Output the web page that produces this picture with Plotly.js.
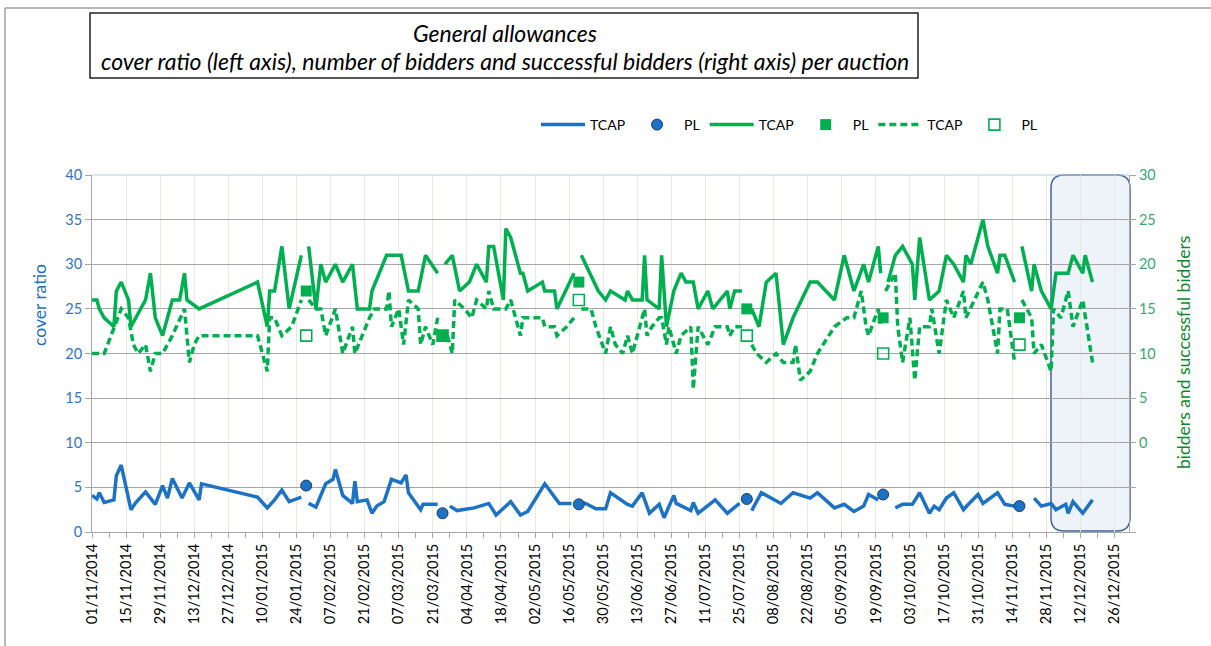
<!DOCTYPE html>
<html><head><meta charset="utf-8">
<script src="https://cdn.plot.ly/plotly-3.0.1.min.js"></script>
<style>html,body{margin:0;padding:0;background:#fff;} #chart{width:1211px;height:646px;}</style>
</head><body><div id="chart"></div>
<script>
// ---------- DATA ----------
// TCAP cover ratio (left axis); null = PL auction day (line gap)
const blueDates = [
 "2014-11-01","2014-11-03","2014-11-04","2014-11-06","2014-11-10","2014-11-11","2014-11-13","2014-11-17","2014-11-19","2014-11-23","2014-11-27","2014-11-30",
 "2014-12-02","2014-12-04","2014-12-08","2014-12-11","2014-12-15","2014-12-16",
 "2015-01-08","2015-01-12","2015-01-15","2015-01-18","2015-01-21","2015-01-26","2015-01-28","2015-01-29",
 "2015-02-01","2015-02-05","2015-02-08","2015-02-09","2015-02-12","2015-02-16","2015-02-17","2015-02-18","2015-02-22","2015-02-24","2015-02-26",
 "2015-03-01","2015-03-04","2015-03-08","2015-03-10","2015-03-11","2015-03-16","2015-03-17","2015-03-23","2015-03-25","2015-03-28","2015-03-31",
 "2015-04-07","2015-04-13","2015-04-16","2015-04-22","2015-04-26","2015-04-29",
 "2015-05-06","2015-05-12","2015-05-17","2015-05-20","2015-05-22","2015-05-27","2015-05-31",
 "2015-06-02","2015-06-09","2015-06-11","2015-06-15","2015-06-18","2015-06-22","2015-06-24","2015-06-28","2015-06-29",
 "2015-07-05","2015-07-06","2015-07-08","2015-07-15","2015-07-20","2015-07-25","2015-07-28","2015-07-30",
 "2015-08-03","2015-08-11","2015-08-16","2015-08-23","2015-08-26",
 "2015-09-02","2015-09-06","2015-09-10","2015-09-14","2015-09-16","2015-09-20","2015-09-22","2015-09-27","2015-09-30",
 "2015-10-04","2015-10-07","2015-10-11","2015-10-13","2015-10-15","2015-10-18","2015-10-21","2015-10-25","2015-10-27","2015-10-31",
 "2015-11-02","2015-11-08","2015-11-11","2015-11-15","2015-11-17","2015-11-23","2015-11-26","2015-11-30",
 "2015-12-02","2015-12-06","2015-12-07","2015-12-09","2015-12-13","2015-12-17"];
const blueCover = [
 4.1,3.7,4.4,3.3,3.6,6.3,7.5,2.5,3.3,4.5,3.1,5.2,
 3.8,6.0,3.8,5.5,3.6,5.4,
 3.9,2.7,3.6,4.7,3.4,3.9,null,3.2,
 2.8,5.4,5.9,7.0,4.1,3.2,5.7,3.4,3.6,2.1,2.9,
 3.4,5.9,5.5,6.4,4.4,2.5,3.1,3.1,null,2.9,2.4,
 2.7,3.2,1.9,3.4,1.9,2.3,
 5.4,3.2,3.2,null,3.3,2.6,2.6,
 4.4,3.1,2.9,4.4,2.1,3.1,1.6,4.1,3.2,
 2.4,3.3,2.1,3.6,2.1,3.2,null,2.4,
 4.4,3.2,4.4,3.8,4.4,
 2.7,3.1,2.3,2.9,4.2,3.6,null,2.7,3.1,
 3.1,4.4,2.1,2.9,2.5,3.8,4.4,2.5,3.1,4.2,
 3.2,4.4,3.1,2.9,null,3.8,2.9,3.2,
 2.5,3.1,2.1,3.4,2.1,3.6];

// TCAP number of bidders (right axis)
const bidDates = [
 "2014-11-01","2014-11-03","2014-11-04","2014-11-06","2014-11-10","2014-11-11","2014-11-13","2014-11-16","2014-11-17","2014-11-23","2014-11-25","2014-11-27","2014-11-30",
 "2014-12-02","2014-12-04","2014-12-07","2014-12-09","2014-12-10","2014-12-15",
 "2015-01-08","2015-01-12","2015-01-13","2015-01-15","2015-01-18","2015-01-21","2015-01-26","2015-01-28","2015-01-29",
 "2015-02-01","2015-02-03","2015-02-05","2015-02-09","2015-02-12","2015-02-14","2015-02-16","2015-02-18","2015-02-20","2015-02-23","2015-02-24",
 "2015-03-02","2015-03-08","2015-03-11","2015-03-15","2015-03-18","2015-03-23","2015-03-25","2015-03-26","2015-03-29",
 "2015-04-01","2015-04-05","2015-04-08","2015-04-12","2015-04-13","2015-04-15","2015-04-19","2015-04-20","2015-04-22","2015-04-26","2015-04-27","2015-04-29",
 "2015-05-05","2015-05-06","2015-05-10","2015-05-11","2015-05-18","2015-05-20","2015-05-21","2015-05-28","2015-05-31",
 "2015-06-02","2015-06-08","2015-06-09","2015-06-11","2015-06-15","2015-06-16","2015-06-17","2015-06-22","2015-06-23","2015-06-25","2015-06-28",
 "2015-07-01","2015-07-03","2015-07-06","2015-07-08","2015-07-12","2015-07-14","2015-07-20","2015-07-21","2015-07-23","2015-07-26","2015-07-28","2015-07-30",
 "2015-08-02","2015-08-05","2015-08-09","2015-08-12","2015-08-16","2015-08-23","2015-08-26",
 "2015-09-02","2015-09-06","2015-09-10","2015-09-14","2015-09-16","2015-09-20","2015-09-21","2015-09-22","2015-09-24","2015-09-27","2015-09-30",
 "2015-10-04","2015-10-05","2015-10-07","2015-10-11","2015-10-15","2015-10-18","2015-10-21","2015-10-25","2015-10-26","2015-10-28",
 "2015-11-02","2015-11-04","2015-11-08","2015-11-09","2015-11-11","2015-11-15","2015-11-17","2015-11-18","2015-11-22","2015-11-23","2015-11-26","2015-11-30",
 "2015-12-02","2015-12-07","2015-12-09","2015-12-13","2015-12-14","2015-12-17"];
const bidders = [
 16,16,15,14,13,17,18,16,13,16,19,14,12,
 14,16,16,19,16,15,
 18,13,17,17,22,15,21,null,22,
 15,20,18,20,18,19,20,15,15,15,17,
 21,21,17,17,21,19,null,20,21,
 17,18,20,18,22,22,16,24,23,19,19,17,
 18,17,17,15,19,null,21,17,16,
 17,16,17,16,16,21,16,15,21,13,17,
 19,18,18,15,17,15,17,15,17,17,null,15,
 13,18,19,11,14,18,18,
 16,21,17,20,18,22,19,null,18,21,22,
 20,16,23,16,17,21,20,18,21,20,
 25,22,19,21,21,18,null,22,17,20,17,15,
 19,19,21,19,21,18];

// TCAP number of successful bidders (right axis)
const succDates = [
 "2014-11-01","2014-11-06","2014-11-13","2014-11-16","2014-11-18","2014-11-20","2014-11-23","2014-11-25","2014-11-27","2014-11-30",
 "2014-12-04","2014-12-09","2014-12-11","2014-12-13","2014-12-15",
 "2015-01-08","2015-01-10","2015-01-12","2015-01-13","2015-01-15","2015-01-18","2015-01-22","2015-01-26","2015-01-28","2015-01-29",
 "2015-02-01","2015-02-03","2015-02-05","2015-02-09","2015-02-12","2015-02-16","2015-02-17","2015-02-20","2015-02-23","2015-02-25",
 "2015-03-02","2015-03-03","2015-03-04","2015-03-07","2015-03-09","2015-03-11","2015-03-15","2015-03-16","2015-03-18","2015-03-21","2015-03-23","2015-03-25","2015-03-27","2015-03-29","2015-03-30",
 "2015-04-03","2015-04-06","2015-04-08","2015-04-12","2015-04-13","2015-04-15","2015-04-20","2015-04-22","2015-04-26","2015-04-27","2015-04-29",
 "2015-05-05","2015-05-06","2015-05-10","2015-05-11","2015-05-15","2015-05-18","2015-05-20","2015-05-21","2015-05-25","2015-05-27","2015-05-31",
 "2015-06-02","2015-06-04","2015-06-07","2015-06-09","2015-06-11","2015-06-14","2015-06-16","2015-06-17","2015-06-19","2015-06-22","2015-06-23","2015-06-25","2015-06-26","2015-06-29",
 "2015-07-01","2015-07-05","2015-07-06","2015-07-08","2015-07-12","2015-07-15","2015-07-20","2015-07-21","2015-07-23","2015-07-26","2015-07-28","2015-07-30",
 "2015-08-01","2015-08-05","2015-08-09","2015-08-12","2015-08-16","2015-08-17","2015-08-19","2015-08-23","2015-08-26",
 "2015-09-02","2015-09-07","2015-09-10","2015-09-13","2015-09-15","2015-09-16","2015-09-20","2015-09-21","2015-09-22","2015-09-23","2015-09-27","2015-09-28","2015-09-30",
 "2015-10-03","2015-10-05","2015-10-07","2015-10-08","2015-10-11","2015-10-12","2015-10-15","2015-10-18","2015-10-21","2015-10-25","2015-10-26",
 "2015-11-02","2015-11-04","2015-11-08","2015-11-09","2015-11-12","2015-11-15","2015-11-17","2015-11-18","2015-11-22","2015-11-23","2015-11-26","2015-11-30",
 "2015-12-01","2015-12-04","2015-12-07","2015-12-09","2015-12-13","2015-12-17"];
const successful = [
 10,10,15,14,11,10,11,8,10,10,
 12,15,9,11,12,
 12,10,8,14,14,12,13,16,null,16,
 15,15,12,15,10,13,10,12,14,15,
 15,17,13,15,11,16,15,11,13,11,14,null,12,10,16,
 15,14,16,15,17,15,15,16,12,14,14,
 14,13,13,12,13,14,null,15,15,13,10,
 13,11,10,12,10,13,15,12,13,14,14,11,13,10,
 12,13,6,13,11,13,13,12,13,13,null,11,
 10,9,10,9,9,11,7,8,10,
 13,14,14,17,13,12,15,13,null,17,19,13,9,
 14,7,13,13,13,15,10,16,14,17,14,
 18,16,10,15,15,9,null,16,14,10,11,8,
 15,14,17,13,16,9];

// PL auctions
const plDates = ["2015-01-28","2015-03-25","2015-05-20","2015-07-28","2015-09-22","2015-11-17"];
const plCover = [5.2, 2.1, 3.1, 3.7, 4.2, 2.9];
const plBidders = [17, 12, 18, 15, 14, 14];
const plSuccessful = [12, 12, 16, 12, 10, 11];

// axis labels / texts
const titleLine1 = "General allowances";
const titleLine2 = "cover ratio (left axis), number of bidders and successful bidders (right axis) per auction";
const leftTitle = "cover ratio";
const rightTitle = "bidders and successful bidders";
const rightTickVals = [-10,-5,0,5,10,15,20,25,30];
const rightTickText = ["","","0","5","10","15","20","25","30"];

// ---------- LAYOUT HELPERS (pixel -> paper) ----------
const L = 92, R = 1129, T = 175, B = 532;
const PW = R - L, PH = B - T;
const px = x => (x - L) / PW;
const py = y => (B - y) / PH;

const FONT = "Lato, 'Open Sans', sans-serif";
const BLUE = "#1c72c4", GREEN = "#00b050";

const traces = [
  {x: blueDates, y: blueCover, name: "TCAP", type: "scatter", mode: "lines",
   line: {color: BLUE, width: 3.5}, connectgaps: false, yaxis: "y"},
  {x: plDates, y: plCover, name: "PL", type: "scatter", mode: "markers",
   marker: {color: BLUE, size: 11, line: {color: "#1f3864", width: 1}}, yaxis: "y"},
  {x: bidDates, y: bidders, name: "TCAP", type: "scatter", mode: "lines",
   line: {color: GREEN, width: 3.5}, connectgaps: false, yaxis: "y2"},
  {x: plDates, y: plBidders, name: "PL", type: "scatter", mode: "markers",
   marker: {color: GREEN, size: 11, symbol: "square"}, yaxis: "y2"},
  {x: succDates, y: successful, name: "TCAP", type: "scatter", mode: "lines",
   line: {color: GREEN, width: 3.5, dash: "7px,4px"}, connectgaps: false, yaxis: "y2"},
  {x: plDates, y: plSuccessful, name: "PL", type: "scatter", mode: "markers",
   marker: {color: GREEN, size: 11, symbol: "square-open", line: {width: 1.6, color: GREEN}}, yaxis: "y2"}
];

// rounded highlight box
const bx0 = px(1051), bx1 = px(1130), by0 = py(531), by1 = py(175);
const rx = 13 / PW, ry = 13 / PH;
const boxPath = `M${bx0+rx},${by0} L${bx1-rx},${by0} Q${bx1},${by0} ${bx1},${by0+ry} L${bx1},${by1-ry} Q${bx1},${by1} ${bx1-rx},${by1} L${bx0+rx},${by1} Q${bx0},${by1} ${bx0},${by1-ry} L${bx0},${by0+ry} Q${bx0},${by0} ${bx0+rx},${by0} Z`;

const DAY = 86400000;
const layout = {
  width: 1211, height: 646,
  margin: {l: L, r: 1211 - R, t: T, b: 646 - B, pad: 0},
  paper_bgcolor: "#ffffff", plot_bgcolor: "#ffffff",
  font: {family: FONT, size: 14, color: "#000"},
  showlegend: true,
  legend: {orientation: "h", x: px(536), y: py(125), xanchor: "left", yanchor: "middle",
           font: {family: FONT, size: 14, color: "#000"}, itemwidth: 44, bgcolor: "rgba(0,0,0,0)", traceorder: "normal"},
  xaxis: {type: "date", range: ["2014-11-01", "2016-01-01"],
          tickmode: "linear", tick0: "2014-11-01", dtick: 14 * DAY, tickformat: "%d/%m/%Y",
          tickangle: -90, tickfont: {family: FONT, size: 14.5, color: "#000"},
          ticks: "outside", ticklen: 5, tickcolor: "#a6a6a6",
          showgrid: true, gridcolor: "#ebe8dc", gridwidth: 1,
          showline: true, linecolor: "#a6a6a6", linewidth: 1, zeroline: false,
          minor: {tick0: "2014-11-01", dtick: 7 * DAY, ticks: "outside", ticklen: 5, tickcolor: "#a6a6a6", showgrid: false},
          fixedrange: true},
  yaxis: {range: [0, 40], dtick: 5, tick0: 0, tickmode: "linear",
          tickfont: {family: FONT, size: 14.5, color: "#2f75c6"},
          ticks: "outside", ticklen: 6, tickcolor: "#a6a6a6",
          showgrid: true, gridcolor: "#a6a6a6", gridwidth: 1,
          showline: true, linecolor: "#a6a6a6", zeroline: false, fixedrange: true},
  yaxis2: {range: [-10, 30], overlaying: "y", side: "right", tickmode: "array",
           tickvals: rightTickVals, ticktext: rightTickText,
           tickfont: {family: FONT, size: 14.5, color: "#3aa673"},
           ticks: "outside", ticklen: 6, tickcolor: "#a6a6a6",
           showgrid: false, showline: true, linecolor: "#a6a6a6", zeroline: false, fixedrange: true},
  shapes: [
    {type: "path", xref: "paper", yref: "paper", path: boxPath, layer: "below",
     fillcolor: "#eef3fa", line: {color: "#41669a", width: 1.5}},
    {type: "line", xref: "paper", yref: "paper", x0: 0, x1: 1, y0: 1, y1: 1, line: {color: "#b4c7e7", width: 1}},
    {type: "rect", xref: "paper", yref: "paper", x0: px(90), x1: px(918), y0: py(78), y1: py(13),
     line: {color: "#222", width: 1.5}, fillcolor: "rgba(0,0,0,0)"},
    {type: "line", xref: "paper", yref: "paper", x0: px(5), x1: px(1211), y0: py(8), y1: py(8), line: {color: "#a0a0a0", width: 1.5}},
    {type: "line", xref: "paper", yref: "paper", x0: px(5), x1: px(5), y0: py(8), y1: py(646), line: {color: "#a0a0a0", width: 1.5}}
  ],
  annotations: [
    {text: titleLine1, xref: "paper", yref: "paper", x: px(505), y: py(33),
     xanchor: "center", yanchor: "middle", showarrow: false, font: {family: FONT, size: 23, color: "#000", style: "italic"}},
    {text: titleLine2, xref: "paper", yref: "paper", x: px(505), y: py(61),
     xanchor: "center", yanchor: "middle", showarrow: false, font: {family: FONT, size: 23, color: "#000", style: "italic"}},
    {text: leftTitle, xref: "paper", yref: "paper", x: px(39), y: py(305), textangle: -90,
     xanchor: "center", yanchor: "middle", showarrow: false, font: {family: FONT, size: 17.5, color: "#1c72c4"}},
    {text: rightTitle, xref: "paper", yref: "paper", x: px(1183), y: py(353), textangle: -90,
     xanchor: "center", yanchor: "middle", showarrow: false, font: {family: FONT, size: 17.5, color: "#0a8a2c"}}
  ]
};

Plotly.newPlot("chart", traces, layout, {displayModeBar: false, staticPlot: true});
</script>
</body></html>
